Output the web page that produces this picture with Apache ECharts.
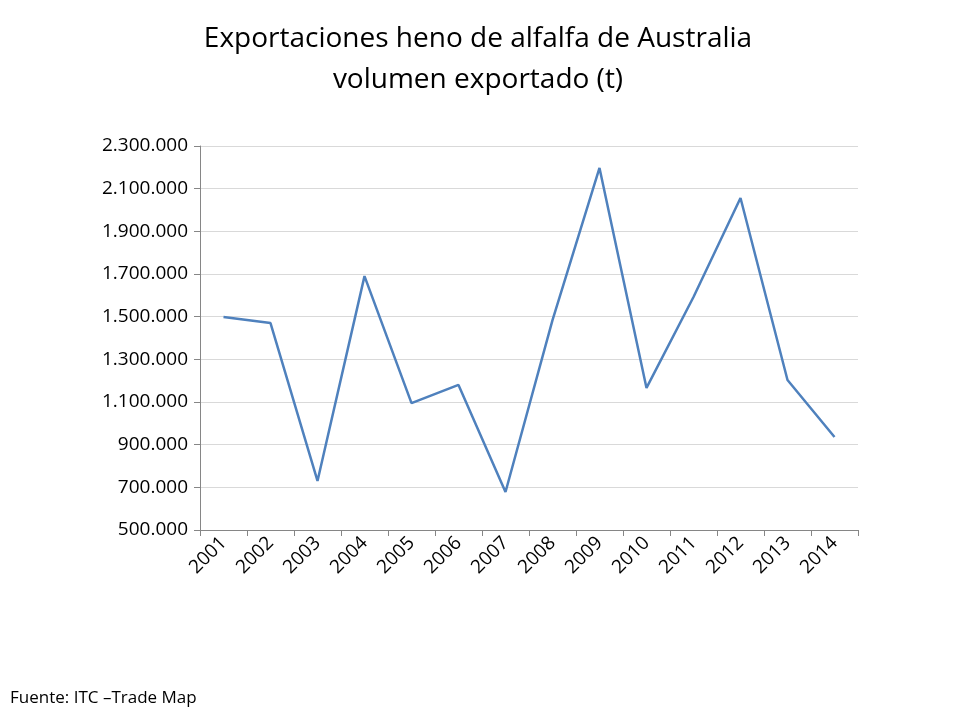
<!DOCTYPE html>
<html><head><meta charset="utf-8">
<script src="https://cdn.jsdelivr.net/npm/echarts@6/dist/echarts.min.js"></script>
<style>html,body{margin:0;padding:0;background:#fff}#c{width:960px;height:720px}</style>
</head><body><div id="c"></div>
<script>
const years = ['2001','2002','2003','2004','2005','2006','2007','2008','2009','2010','2011','2012','2013','2014'];
const volumes = [1498000,1470000,730000,1690000,1095000,1180000,678000,1484000,2197000,1166000,1592000,2056000,1203000,936000];
const F = '"Open Sans", "Liberation Sans", sans-serif';
const chart = echarts.init(document.getElementById('c'));
chart.setOption({
  animation:false,
  title:{text:'Exportaciones heno de alfalfa de Australia\nvolumen exportado (t)',left:473,top:14,textAlign:'center',
    textStyle:{fontFamily:F,fontSize:28,fontWeight:'normal',color:'#000',lineHeight:41}},
  graphic:[{type:'text',left:10,top:690,style:{text:'Fuente: ITC –Trade Map',font:'17px '+F,fill:'#000'}}],
  grid:{left:200,right:102,top:146,bottom:190},
  xAxis:{type:'category',data:years,boundaryGap:true,
    axisLine:{lineStyle:{color:'#868686'}},axisTick:{show:true,length:6,lineStyle:{color:'#868686'}},
    axisLabel:{rotate:45,fontFamily:F,fontSize:19,color:'#000',margin:10}},
  yAxis:{type:'value',min:500000,max:2300000,interval:200000,
    axisLine:{show:true,lineStyle:{color:'#868686'}},axisTick:{show:true,length:6,lineStyle:{color:'#868686'}},
    splitLine:{lineStyle:{color:'#d9d9d9'}},
    axisLabel:{fontFamily:F,fontSize:19,color:'#000',margin:12,
      formatter:v=>String(v).replace(/\B(?=(\d{3})+(?!\d))/g,'.')}},
  series:[{type:'line',data:volumes,symbol:'none',lineStyle:{color:'#4f81bd',width:2.5}}]
});
</script></body></html>
